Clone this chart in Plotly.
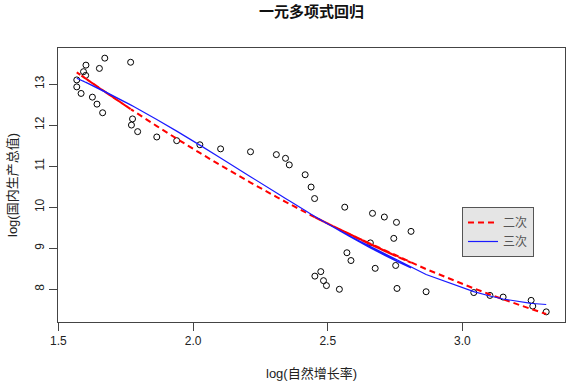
import numpy as np
import plotly.graph_objects as go

# Data, listed in the original row order (GDP descending)
log_growth = [1.672, 1.768, 1.602, 1.652, 1.593, 1.601, 1.568, 1.568, 1.584, 1.626,
              1.643, 1.664, 1.775, 1.771, 1.794, 1.865, 1.939, 2.025, 2.102, 2.213,
              2.309, 2.343, 2.357, 2.416, 2.438, 2.451, 2.563, 2.666, 2.710, 2.755,
              2.809, 2.745, 2.658, 2.571, 2.586, 2.752, 2.676, 2.474, 2.452, 2.484,
              2.495, 2.757, 2.543, 2.865, 3.042, 3.102, 3.151, 3.255, 3.261, 3.311]
log_gdp = [13.63, 13.53, 13.46, 13.38, 13.30, 13.21, 13.10, 12.93, 12.77, 12.68,
           12.51, 12.30, 12.15, 12.00, 11.84, 11.71, 11.62, 11.52, 11.42, 11.35,
           11.28, 11.19, 11.03, 10.79, 10.49, 10.21, 10.00, 9.85, 9.76, 9.63,
           9.41, 9.24, 9.13, 8.89, 8.70, 8.58, 8.51, 8.43, 8.32, 8.21,
           8.09, 8.02, 8.00, 7.94, 7.92, 7.85, 7.81, 7.73, 7.59, 7.45]

x_ticks = [1.5, 2.0, 2.5, 3.0]
y_ticks = [8, 9, 10, 11, 12, 13]
legend_names = ["二次", "三次"]
title_text = "一元多项式回归"
x_title = "log(自然增长率)"
y_title = "log(国内生产总值)"

x = np.array(log_growth)
y = np.array(log_gdp)

# Polynomial regressions (quadratic and cubic), evaluated in row order like lines() in R
fit2 = np.polyval(np.polyfit(x, y, 2), x)
fit3 = np.polyval(np.polyfit(x, y, 3), x)

fig = go.Figure()
fig.add_trace(go.Scatter(
    x=x, y=y, mode="markers", showlegend=False,
    marker=dict(symbol="circle-open", size=6, color="black", line=dict(width=1, color="black")),
))
fig.add_trace(go.Scatter(
    x=x, y=fit2, mode="lines", name=legend_names[0],
    line=dict(color="#ff0000", width=2, dash="6px,4px", simplify=False),
))
fig.add_trace(go.Scatter(
    x=x, y=fit3, mode="lines", name=legend_names[1],
    line=dict(color="#1a1aff", width=1.2, simplify=False),
))

# R-style axis ranges: data range extended by 4% on each side
def r_range(v):
    lo, hi = min(v), max(v)
    pad = 0.04 * (hi - lo)
    return [lo - pad, hi + pad]

rng_x = r_range(log_growth)
rng_y = r_range(log_gdp)

axis_common = dict(
    showgrid=False, zeroline=False, showline=True, mirror=True,
    linecolor="#444444", linewidth=1,
    ticks="outside", ticklen=8, tickcolor="#444444", tickwidth=1,
    tickfont=dict(family="Liberation Sans, Arial", size=12, color="#222222"),
)

fig.update_layout(
    width=567, height=383,
    margin=dict(l=58, r=2, t=48, b=61),
    paper_bgcolor="white", plot_bgcolor="white",
    xaxis=dict(range=rng_x, tickvals=x_ticks, tickformat=".1f", **axis_common),
    yaxis=dict(range=rng_y, tickvals=y_ticks, tickangle=-90, **axis_common),
    legend=dict(
        x=(462 - 58) / 507, y=(322 - 207) / 274, xanchor="left", yanchor="top",
        bgcolor="#e5e5e5", bordercolor="#555555", borderwidth=1,
        font=dict(family="Noto Sans CJK SC", size=12, color="#555555"),
        itemwidth=30, tracegroupgap=0,
    ),
    annotations=[
        dict(text=f"<b>{title_text}</b>", xref="paper", yref="paper", x=0.5, y=1,
             yshift=38, showarrow=False, xanchor="center", yanchor="middle",
             font=dict(family="Noto Sans CJK SC", size=15, color="#111111")),
        dict(text=x_title, xref="paper", yref="paper", x=0.5, y=0,
             yshift=-51, showarrow=False, xanchor="center", yanchor="middle",
             font=dict(family="Liberation Sans, Noto Sans CJK SC", size=13, color="#222222")),
        dict(text=y_title, xref="paper", yref="paper", x=0, y=0.5,
             xshift=-46, showarrow=False, xanchor="center", yanchor="middle", textangle=-90,
             font=dict(family="Liberation Sans, Noto Sans CJK SC", size=13, color="#222222")),
    ],
)

# remove the default 8px page margin so the figure sits at the window's top-left corner
fig.write_html("out.html", config={"displayModeBar": False},
               post_script="document.body.style.margin='0';")
